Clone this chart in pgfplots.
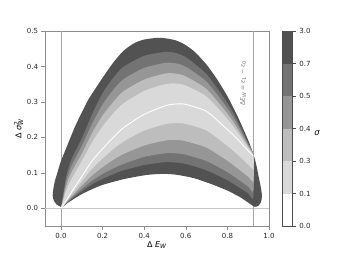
\documentclass[border=0pt]{standalone}
\usepackage{pgfplots}
\pgfplotsset{compat=1.18}
\usepackage{fontspec}
\setmainfont{DejaVu Sans}
\definecolor{c1}{HTML}{D9D9D9}
\definecolor{c2}{HTML}{BDBDBD}
\definecolor{c3}{HTML}{969696}
\definecolor{c4}{HTML}{737373}
\definecolor{c5}{HTML}{525252}
\begin{document}
\begin{tikzpicture}
\useasboundingbox (0,0) rectangle (361pt,258pt);
\begin{axis}[
  at={(45pt,32pt)}, anchor=south west,
  scale only axis, width=224pt, height=195pt,
  xmin=-0.077, xmax=1.0, ymin=-0.05, ymax=0.5,
  xtick={0,0.2,0.4,0.6,0.8,1.0}, xticklabels={0.0,0.2,0.4,0.6,0.8,1.0},
  ytick={0,0.1,0.2,0.3,0.4,0.5}, yticklabels={0.0,0.1,0.2,0.3,0.4,0.5},
  tick pos=left, tick align=outside, major tick length=3.5pt,
  axis line style={draw=black!45, line width=0.8pt},
  tick style={draw=black!45, line width=0.6pt},
  /pgf/number format/assume math mode=true,
  tick label style={font=\fontsize{7}{8}\selectfont, text=black!85},
  every axis x label/.style={at={(axis description cs:0.5,-0.097)}, anchor=center, font=\fontsize{8}{9}\selectfont},
  every axis y label/.style={at={(axis description cs:-0.118,0.5)}, rotate=90, anchor=center, font=\fontsize{8}{9}\selectfont},
  xlabel={Δ \textit{E}\textsubscript{\textit{W}}},
  ylabel={Δ \textit{σ}\rlap{\textsuperscript{2}}\textsubscript{\textit{W}}},
]
% reference lines
\addplot[draw=black!22, line width=1.1pt] coordinates {(-0.077,0) (1.0,0)};
\addplot[draw=black!35, line width=0.7pt] coordinates {(0,-0.05) (0,0.5)};
\addplot[draw=black!35, line width=0.7pt] coordinates {(0.925,-0.05) (0.925,0.5)};
% outer region sigma < 3.0
\addplot[fill=c5, draw=none, smooth, tension=0.4] coordinates {
(0.003,0.003) (-0.02,0.01) (-0.035,0.022) (-0.04,0.035) (-0.036,0.058) (-0.029,0.078) (-0.016,0.103) (-0.005,0.125) (0.005,0.141) (0.03,0.177) (0.067,0.230) (0.1,0.270) (0.135,0.310) (0.2,0.368) (0.25,0.410) (0.3,0.444) (0.35,0.465) (0.4,0.476) (0.477,0.481) (0.55,0.474) (0.6,0.460) (0.645,0.440) (0.7,0.405) (0.75,0.364) (0.8,0.316) (0.85,0.258) (0.9,0.192) (0.925,0.152) (0.938,0.125) (0.95,0.090) (0.962,0.055) (0.966,0.035) (0.962,0.018) (0.95,0.008) (0.932,0.004) (0.9,0.016) (0.862,0.031) (0.8,0.050) (0.733,0.066) (0.7,0.073) (0.645,0.084) (0.6,0.090) (0.55,0.095) (0.5,0.097) (0.45,0.096) (0.4,0.093) (0.3,0.082) (0.2,0.066) (0.15,0.054) (0.1,0.040) (0.05,0.022) (0.02,0.010)};
% sigma < 0.7
\addplot[fill=c4, draw=none, smooth, tension=0.4] coordinates {
(0,0) (0.025,0.090) (0.05,0.138) (0.1,0.197) (0.15,0.266) (0.2,0.325) (0.25,0.367) (0.3,0.399) (0.4,0.430) (0.5,0.441) (0.55,0.438) (0.6,0.426) (0.7,0.378) (0.8,0.297) (0.85,0.245) (0.9,0.184) (0.925,0.148)
(0.925,0.030) (0.9,0.042) (0.85,0.061) (0.8,0.079) (0.7,0.107) (0.6,0.125) (0.55,0.129) (0.5,0.130) (0.4,0.122) (0.3,0.107) (0.25,0.096) (0.2,0.083) (0.15,0.068) (0.1,0.048) (0.05,0.026) (0.025,0.012)};
% sigma < 0.5
\addplot[fill=c3, draw=none, smooth, tension=0.4] coordinates {
(0,0) (0.025,0.077) (0.05,0.119) (0.1,0.176) (0.15,0.239) (0.2,0.293) (0.25,0.333) (0.3,0.364) (0.4,0.396) (0.5,0.410) (0.55,0.409) (0.6,0.399) (0.7,0.357) (0.8,0.282) (0.85,0.235) (0.9,0.180) (0.925,0.148)
(0.925,0.049) (0.9,0.061) (0.85,0.082) (0.8,0.102) (0.7,0.133) (0.6,0.151) (0.55,0.155) (0.5,0.155) (0.4,0.145) (0.3,0.125) (0.25,0.112) (0.2,0.097) (0.15,0.078) (0.1,0.055) (0.05,0.029) (0.025,0.014)};
% sigma < 0.4
\addplot[fill=c2, draw=none, smooth, tension=0.4] coordinates {
(0,0) (0.025,0.063) (0.05,0.101) (0.1,0.154) (0.15,0.213) (0.2,0.262) (0.25,0.299) (0.3,0.330) (0.4,0.363) (0.5,0.380) (0.55,0.380) (0.6,0.372) (0.7,0.336) (0.8,0.267) (0.85,0.224) (0.9,0.175) (0.925,0.148)
(0.925,0.076) (0.9,0.089) (0.85,0.112) (0.8,0.134) (0.7,0.171) (0.6,0.189) (0.55,0.193) (0.5,0.191) (0.4,0.177) (0.3,0.153) (0.25,0.136) (0.2,0.116) (0.15,0.093) (0.1,0.064) (0.05,0.033) (0.025,0.016)};
% sigma < 0.3
\addplot[fill=c1, draw=none, smooth, tension=0.4] coordinates {
(0,0) (0.025,0.050) (0.05,0.082) (0.1,0.133) (0.15,0.187) (0.2,0.231) (0.25,0.267) (0.3,0.296) (0.4,0.331) (0.5,0.350) (0.55,0.352) (0.6,0.346) (0.7,0.315) (0.8,0.252) (0.85,0.214) (0.9,0.171) (0.925,0.148)
(0.925,0.110) (0.9,0.123) (0.85,0.151) (0.8,0.176) (0.7,0.219) (0.6,0.238) (0.55,0.240) (0.5,0.237) (0.4,0.219) (0.3,0.188) (0.25,0.166) (0.2,0.140) (0.15,0.112) (0.1,0.076) (0.05,0.039) (0.025,0.019)};
% sigma < 0.1
\addplot[draw=white, line width=0.9pt, smooth, tension=0.4] coordinates {
(0,0) (0.025,0.022) (0.05,0.045) (0.1,0.090) (0.15,0.134) (0.2,0.168) (0.25,0.199) (0.3,0.227) (0.4,0.265) (0.5,0.289) (0.55,0.294) (0.6,0.293) (0.7,0.273) (0.8,0.222) (0.85,0.194) (0.9,0.162) (0.925,0.148)};
\node[rotate=90, font=\fontsize{6}{7}\selectfont, text=black!55] at (axis cs:0.876,0.353)
  {Δ\textit{E}\textsubscript{\textit{W}} = \textit{ε}\textsubscript{1} − \textit{ε}\textsubscript{0}};
\node[anchor=south west, font=\fontsize{9.5}{10}\selectfont\bfseries, inner sep=0pt] at (axis description cs:0,1.025) {b};
\end{axis}
\begin{axis}[
  at={(282.7pt,32pt)}, anchor=south west,
  scale only axis, width=9.6pt, height=195pt,
  xmin=0, xmax=1, ymin=0, ymax=6,
  xtick=\empty, ytick={0,1,2,3,4,5,6}, yticklabels={0.0,0.1,0.3,0.4,0.5,0.7,3.0},
  yticklabel pos=right, ytick pos=right, tick align=outside, major tick length=3.5pt,
  axis line style={draw=black!70, line width=0.6pt},
  tick style={draw=black!70, line width=0.6pt},
  tick label style={font=\fontsize{7}{8}\selectfont, text=black!85},
]
\addplot[fill=white, draw=none] coordinates {(0,0) (1,0) (1,1) (0,1)};
\addplot[fill=c1, draw=none] coordinates {(0,1) (1,1) (1,2) (0,2)};
\addplot[fill=c2, draw=none] coordinates {(0,2) (1,2) (1,3) (0,3)};
\addplot[fill=c3, draw=none] coordinates {(0,3) (1,3) (1,4) (0,4)};
\addplot[fill=c4, draw=none] coordinates {(0,4) (1,4) (1,5) (0,5)};
\addplot[fill=c5, draw=none] coordinates {(0,5) (1,5) (1,6) (0,6)};
\end{axis}
\node[font=\fontsize{8.5}{9}\selectfont\itshape] at (317pt,125pt) {σ};
\end{tikzpicture}
\end{document}
